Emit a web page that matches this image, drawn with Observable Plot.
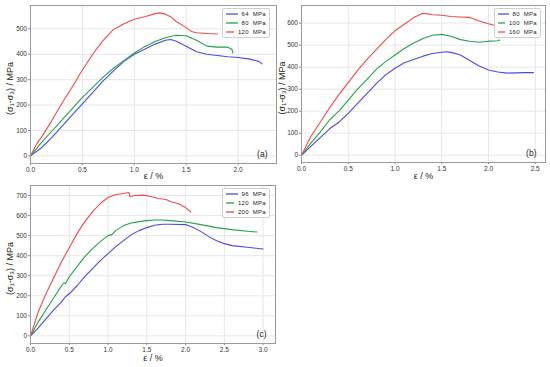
<!DOCTYPE html>
<html><head><meta charset="utf-8">
<script src="https://cdn.jsdelivr.net/npm/d3@7"></script>
<script src="https://cdn.jsdelivr.net/npm/@observablehq/plot@0.6"></script>
<style>
html,body{margin:0;padding:0;background:#fff;}
#root{position:relative;width:550px;height:367px;overflow:hidden;font-family:"Liberation Sans",Arial,sans-serif;}
.pane{position:absolute;}
.leg{position:absolute;border:1px solid #cfcfcf;border-radius:2px;background:#fff;box-sizing:border-box;padding:1px 3px;}
.row{display:flex;align-items:center;height:8.8px;font-size:6px;color:#222;letter-spacing:0.3px;}
.row svg{margin-right:4px;}
</style></head>
<body><div id="root"></div>
<script>
// ---- data ----
const colors = ["#4a4ae0", "#22a347", "#f04a4a"];
const xLabel = "ε / %";
const yLabel = "(σ₁-σ₃) / MPa";

// panel (a)
const labelsA = ["64 MPa", "80 MPa", "120 MPa"];
const a64 = [[0,0],[0.1,30],[0.2,70],[0.3,115],[0.4,160],[0.5,205],[0.6,250],[0.7,295],[0.8,335],[0.9,372],[1.0,400],[1.1,420],[1.2,440],[1.3,455],[1.35,458],[1.4,452],[1.5,432],[1.6,410],[1.7,400],[1.8,395],[1.9,390],[2.0,387],[2.1,382],[2.2,372],[2.23,362]];
const a80 = [[0,0],[0.05,25],[0.1,50],[0.2,95],[0.3,140],[0.4,185],[0.5,230],[0.6,270],[0.7,310],[0.8,345],[0.9,375],[1.0,405],[1.1,430],[1.2,450],[1.3,465],[1.4,475],[1.5,473],[1.6,455],[1.7,432],[1.8,428],[1.9,428],[1.94,420],[1.95,405]];
const a120 = [[0,0],[0.05,40],[0.08,60],[0.1,70],[0.2,135],[0.3,205],[0.4,270],[0.5,338],[0.6,400],[0.7,455],[0.8,498],[0.85,508],[0.9,520],[1.0,538],[1.1,548],[1.2,560],[1.25,563],[1.3,558],[1.35,548],[1.4,530],[1.5,505],[1.55,490],[1.6,485],[1.7,482],[1.8,480]];
const xTicksA = [0, 0.5, 1.0, 1.5, 2.0];
const yTicksA = [0, 100, 200, 300, 400, 500];

// panel (b)
const labelsB = ["80 MPa", "100 MPa", "160 MPa"];
const b80 = [[0,0],[0.1,40],[0.2,80],[0.3,120],[0.4,150],[0.5,190],[0.6,235],[0.7,280],[0.8,325],[0.9,365],[1.0,395],[1.1,420],[1.2,435],[1.3,450],[1.4,462],[1.5,468],[1.55,470],[1.6,467],[1.7,455],[1.8,430],[1.9,405],[2.0,387],[2.1,378],[2.2,373],[2.3,374],[2.4,375],[2.48,375]];
const b100 = [[0,0],[0.1,55],[0.2,105],[0.3,160],[0.4,200],[0.5,250],[0.6,300],[0.7,345],[0.8,390],[0.9,425],[1.0,455],[1.1,485],[1.2,510],[1.3,530],[1.4,545],[1.5,549],[1.6,540],[1.7,525],[1.8,518],[1.9,513],[2.0,518],[2.1,520],[2.12,523]];
const b160 = [[0,0],[0.1,85],[0.2,150],[0.3,215],[0.4,275],[0.5,330],[0.6,385],[0.7,435],[0.8,480],[0.9,525],[1.0,565],[1.1,595],[1.2,625],[1.3,645],[1.35,642],[1.4,638],[1.5,636],[1.6,630],[1.7,628],[1.8,626],[1.9,610],[2.0,597],[2.06,590]];
const xTicksB = [0, 0.5, 1.0, 1.5, 2.0, 2.5];
const yTicksB = [0, 100, 200, 300, 400, 500, 600];

// panel (c)
const labelsC = ["96 MPa", "120 MPa", "200 MPa"];
const c96 = [[0,0],[0.1,40],[0.2,85],[0.3,130],[0.4,170],[0.45,195],[0.5,210],[0.6,250],[0.7,295],[0.8,335],[0.9,375],[1.0,410],[1.1,445],[1.2,475],[1.3,505],[1.4,525],[1.5,540],[1.6,552],[1.7,557],[1.8,557],[2.0,555],[2.1,540],[2.2,520],[2.3,495],[2.4,475],[2.5,460],[2.6,450],[2.8,442],[3.0,433]];
const c120 = [[0,0],[0.1,70],[0.2,130],[0.3,190],[0.4,250],[0.43,265],[0.45,260],[0.5,295],[0.6,345],[0.7,395],[0.8,435],[0.9,470],[1.0,500],[1.05,505],[1.1,525],[1.2,550],[1.3,563],[1.4,570],[1.5,575],[1.6,578],[1.7,578],[1.8,575],[2.0,568],[2.2,555],[2.4,540],[2.6,530],[2.8,522],[2.92,518]];
const c200 = [[0,0],[0.1,120],[0.2,210],[0.3,290],[0.4,370],[0.5,440],[0.6,510],[0.7,570],[0.8,620],[0.9,660],[1.0,690],[1.1,705],[1.2,710],[1.27,715],[1.28,695],[1.35,700],[1.45,702],[1.55,695],[1.65,685],[1.75,680],[1.8,670],[1.9,660],[2.0,640],[2.07,618]];
const xTicksC = [0, 0.5, 1.0, 1.5, 2.0, 2.5, 3.0];
const yTicksC = [0, 100, 200, 300, 400, 500, 600, 700];

// ---- drawing ----
const root = document.getElementById("root");
const fmt = d3.format(".1f");

function panel(cfg) {
  const rows = [];
  cfg.series.forEach((s, i) => s.forEach(([x, y]) => rows.push({x, y, s: cfg.labels[i]})));
  const chart = Plot.plot({
    width: cfg.w, height: cfg.h,
    marginLeft: cfg.m[0], marginRight: cfg.m[1], marginTop: cfg.m[2], marginBottom: cfg.m[3],
    style: {fontFamily: "'Liberation Sans', Arial, sans-serif", fontSize: "6.5px", color: "#333", background: "transparent", overflow: "visible"},
    x: {domain: cfg.xd},
    y: {domain: cfg.yd},
    color: {domain: cfg.labels, range: colors},
    marks: [
      Plot.gridX(cfg.xt, {stroke: "#e6e6e6", strokeOpacity: 1}),
      Plot.gridY(cfg.yt, {stroke: "#e6e6e6", strokeOpacity: 1}),
      Plot.axisX(cfg.xt, {tickSize: 2, tickPadding: 1.5, tickFormat: fmt, stroke: "#888", label: null}),
      Plot.axisY(cfg.yt, {tickSize: 2, tickPadding: 1.5, stroke: "#888", label: null}),
      Plot.line(rows, {x: "x", y: "y", z: "s", stroke: "s", strokeWidth: 1.1}),
      Plot.frame({stroke: "#9a9a9a", strokeWidth: 1}),
      Plot.text([xLabel], {frameAnchor: "bottom", lineAnchor: "middle", textAnchor: "middle", dy: cfg.xlo, fontSize: 9, fill: "#222"}),
      Plot.text([yLabel], {frameAnchor: "left", lineAnchor: "middle", textAnchor: "middle", rotate: -90, dx: cfg.ylo, dy: 4, fontSize: 9, fill: "#222"}),
      Plot.text([cfg.tag], {frameAnchor: "bottom-right", lineAnchor: "middle", textAnchor: "end", dx: -9, dy: -9, fontSize: 8.5, fill: "#222"})
    ]
  });
  const div = document.createElement("div");
  div.className = "pane";
  div.style.left = cfg.left + "px";
  div.style.top = cfg.top + "px";
  div.appendChild(chart);
  root.appendChild(div);

  const leg = document.createElement("div");
  leg.className = "leg";
  leg.style.left = cfg.leg[0] + "px";
  leg.style.top = cfg.leg[1] + "px";
  leg.style.width = cfg.leg[2] + "px";
  cfg.labels.forEach((l, i) => {
    const r = document.createElement("div");
    r.className = "row";
    r.innerHTML = `<svg width="15" height="4"><line x1="0" x2="15" y1="2" y2="2" stroke="${colors[i]}" stroke-width="1.3"/></svg><span>${l.replace(" ", "&nbsp;&nbsp;")}</span>`;
    leg.appendChild(r);
  });
  root.appendChild(leg);
}

panel({series: [a64, a80, a120], labels: labelsA, xd: [0, 2.37], yd: [-30, 592], xt: xTicksA, yt: yTicksA,
  tag: "(a)", left: 0, top: 0, w: 280, h: 183, m: [30, 4, 5, 20], xlo: 13, ylo: -20, leg: [222, 8, 48]});
panel({series: [b80, b100, b160], labels: labelsB, xd: [0, 2.61], yd: [-33, 680], xt: xTicksB, yt: yTicksB,
  tag: "(b)", left: 275, top: 0, w: 275, h: 183, m: [26, 5, 5, 21], xlo: 14, ylo: -19, leg: [494, 8, 47]});
panel({series: [c96, c120, c200], labels: labelsC, xd: [0, 3.16], yd: [-38, 750], xt: xTicksC, yt: yTicksC,
  tag: "(c)", left: 0, top: 180, w: 280, h: 187, m: [30, 5, 5, 24], xlo: 15, ylo: -20, leg: [222, 188, 48]});
</script></body></html>
